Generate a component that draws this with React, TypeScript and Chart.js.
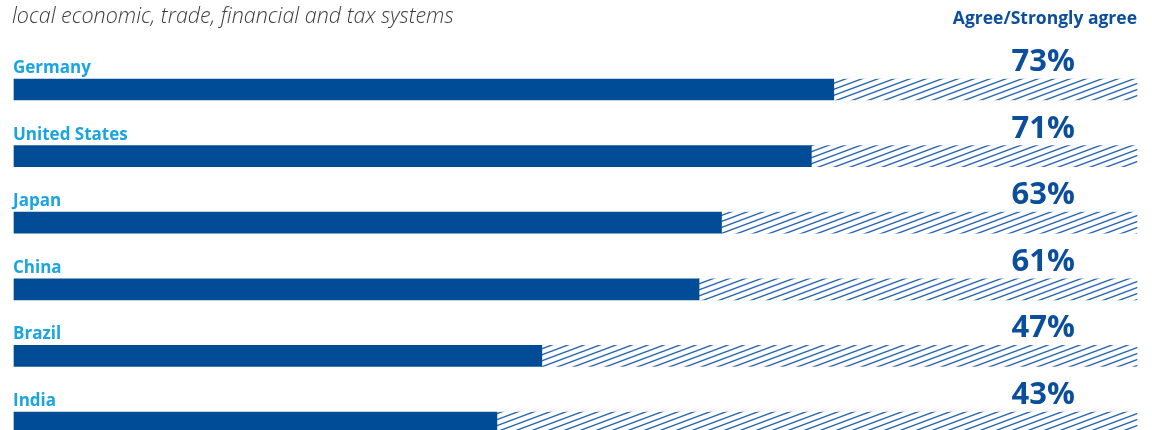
import React, { useEffect, useRef } from "react";
import { Chart, registerables } from "chart.js";

Chart.register(...registerables);

const titleText = "local economic, trade, financial and tax systems";
const headerText = "Agree/Strongly agree";
const countries = ["Germany", "United States", "Japan", "China", "Brazil", "India"];
const agreeValues = [73, 71, 63, 61, 47, 43];
const remainderValues = agreeValues.map((v) => 100 - v);

const SOLID = "#004c97";
const HATCH = "#2b68b3";
const LABEL = "#1ba5e0";
const PCT = "#0b4f9c";
const TITLE = "#3c3c3c";
const FONT = "'Open Sans', 'Noto Sans', sans-serif";

function makeHatch(): CanvasPattern | string {
  const w = 16;
  const h = 6;
  const c = document.createElement("canvas");
  c.width = w;
  c.height = h;
  const ctx = c.getContext("2d");
  if (!ctx) return HATCH;
  ctx.strokeStyle = HATCH;
  ctx.lineWidth = 1.4;
  for (const dy of [-h, 0, h]) {
    ctx.beginPath();
    ctx.moveTo(-w, 2 * h + dy);
    ctx.lineTo(2 * w, -h + dy);
    ctx.stroke();
  }
  const p = ctx.createPattern(c, "repeat");
  return p || HATCH;
}

const textPlugin = {
  id: "textPlugin",
  afterDraw(chart: any) {
    const ctx = chart.ctx as CanvasRenderingContext2D;
    const y = chart.scales.y;
    const area = chart.chartArea;
    ctx.save();
    ctx.textBaseline = "alphabetic";
    // title
    ctx.fillStyle = TITLE;
    ctx.font = `italic 300 21.5px ${FONT}`;
    ctx.textAlign = "left";
    ctx.fillText(titleText, 12, 23);
    // header
    ctx.fillStyle = PCT;
    ctx.font = `bold 17.5px ${FONT}`;
    ctx.textAlign = "right";
    ctx.fillText(headerText, area.right, 24);
    countries.forEach((name, i) => {
      const cy = y.getPixelForValue(i);
      const top = cy - 10.5;
      ctx.fillStyle = LABEL;
      ctx.font = `bold 17px ${FONT}`;
      ctx.textAlign = "left";
      ctx.fillText(name, 13, top - 6);
      ctx.fillStyle = PCT;
      ctx.font = `bold 31px ${FONT}`;
      ctx.textAlign = "right";
      ctx.fillText(`${agreeValues[i]}%`, 1075, top - 8);
    });
    ctx.restore();
  },
};

export default function App() {
  const ref = useRef<HTMLCanvasElement | null>(null);
  useEffect(() => {
    if (!ref.current) return;
    const hatch = makeHatch();
    const chart = new Chart(ref.current, {
      type: "bar",
      data: {
        labels: countries,
        datasets: [
          {
            data: agreeValues,
            backgroundColor: SOLID,
            barThickness: 21,
            borderWidth: 0,
            clip: false as any,
          },
          {
            data: remainderValues,
            backgroundColor: hatch as any,
            barThickness: 21,
            borderWidth: 0,
            clip: false as any,
          },
        ],
      },
      options: {
        indexAxis: "y",
        animation: false,
        responsive: false,
        maintainAspectRatio: false,
        layout: { padding: { left: 14, right: 15, top: 89.5, bottom: 7.5 } },
        plugins: { legend: { display: false }, tooltip: { enabled: false } },
        scales: {
          x: { stacked: true, min: 0, max: 100, display: false },
          y: { stacked: true, display: false, offset: false },
        },
      },
      plugins: [textPlugin],
    });
    return () => chart.destroy();
  }, []);
  return (
    <div style={{ position: "fixed", left: 0, top: 0, width: 1152, height: 430, background: "#fff" }}>
      <canvas ref={ref} width={1152} height={430} style={{ width: 1152, height: 430, display: "block" }} />
    </div>
  );
}
